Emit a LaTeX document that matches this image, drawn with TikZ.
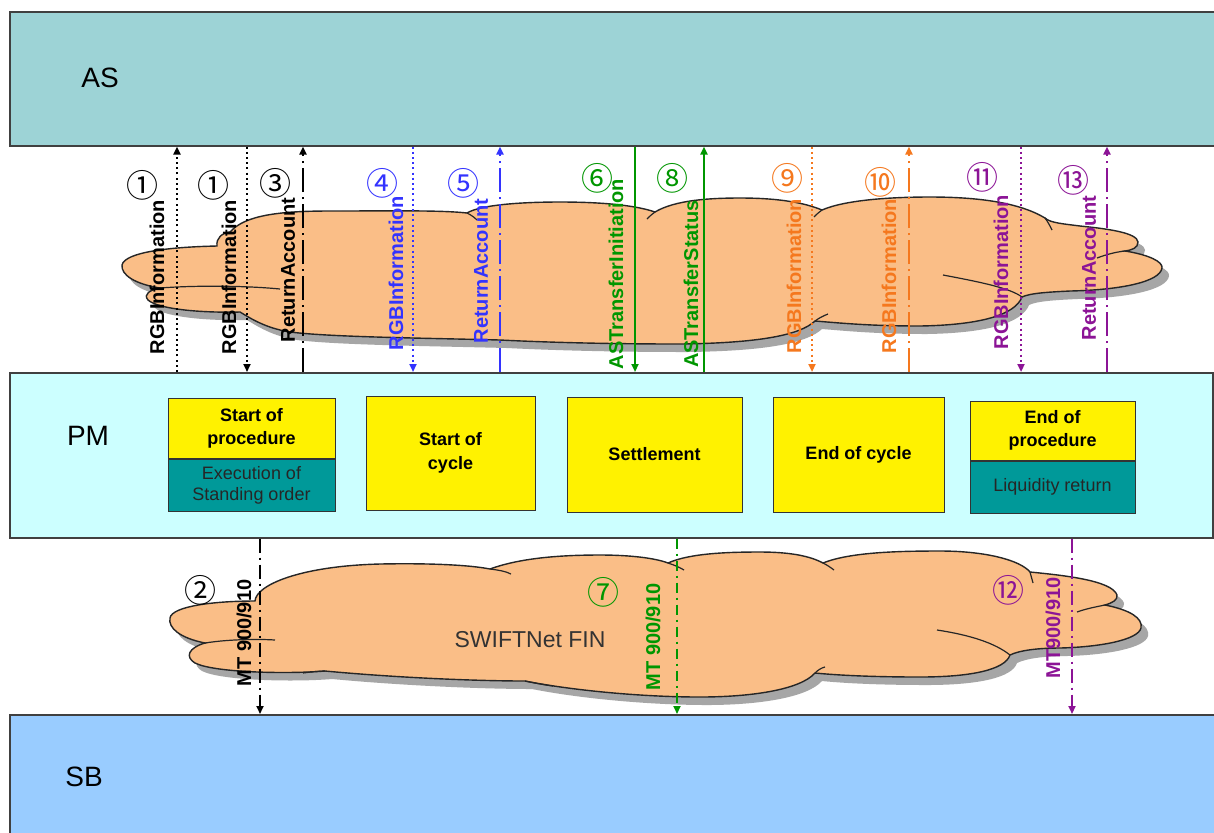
\documentclass[tikz,border=0pt]{standalone}
\usepackage{fontspec}
\setmainfont{Liberation Sans}
\newfontfamily\circfont{Noto Sans CJK SC}
\usetikzlibrary{arrows.meta,positioning,calc}
\definecolor{asband}{RGB}{157,211,214}
\definecolor{pmband}{RGB}{204,255,255}
\definecolor{sbband}{RGB}{153,204,255}
\definecolor{boxteal}{RGB}{0,153,153}
\definecolor{cloudfill}{RGB}{250,190,135}
\definecolor{msgblue}{RGB}{51,51,255}
\definecolor{msggreen}{RGB}{0,150,0}
\definecolor{msgorange}{RGB}{245,120,30}
\definecolor{msgpurple}{RGB}{140,20,150}
% outlines of the two clouds (px units)
\newcommand{\topcloud}[1]{%
  \path[#1] (122,265) .. controls (125,252) and (170,247) .. (217,246)
    .. controls (216,238) and (222,233) .. (230,232)
    .. controls (245,215) and (280,211) .. (330,211)
    .. controls (390,211) and (440,210) .. (467,213)
    .. controls (480,205) and (520,202) .. (560,202)
    .. controls (600,202) and (635,205) .. (655,212)
    .. controls (675,200) and (710,198) .. (740,198)
    .. controls (780,198) and (805,203) .. (822,210)
    .. controls (845,200) and (890,197) .. (930,197)
    .. controls (980,197) and (1020,203) .. (1045,218)
    .. controls (1050,223) and (1065,224) .. (1080,226)
    .. controls (1110,229) and (1137,233) .. (1138,242)
    .. controls (1138,248) and (1132,250) .. (1125,251)
    .. controls (1150,255) and (1163,262) .. (1162,268)
    .. controls (1160,282) and (1120,290) .. (1070,291)
    .. controls (1050,292) and (1030,293) .. (1022,297)
    .. controls (1015,315) and (980,325) .. (920,326)
    .. controls (870,326) and (840,323) .. (815,321)
    .. controls (800,335) and (760,343) .. (680,344)
    .. controls (600,344) and (540,342) .. (500,340)
    .. controls (420,338) and (330,337) .. (290,332)
    .. controls (265,328) and (250,318) .. (240,312)
    .. controls (200,313) and (158,309) .. (148,300)
    .. controls (143,294) and (150,290) .. (160,288)
    .. controls (135,284) and (121,275) .. (122,265) -- cycle;}
\newcommand{\botcloud}[1]{%
  \path[#1] (170,618) .. controls (172,606) and (215,601) .. (255,601)
    .. controls (256,585) and (300,566) .. (380,564)
    .. controls (430,563) and (470,565) .. (490,569)
    .. controls (520,558) and (560,555) .. (600,555)
    .. controls (630,555) and (655,558) .. (668,563)
    .. controls (690,553) and (730,552) .. (760,552)
    .. controls (790,552) and (810,556) .. (823,563)
    .. controls (850,552) and (900,551) .. (940,551)
    .. controls (985,551) and (1020,560) .. (1030,572)
    .. controls (1060,575) and (1112,580) .. (1117,595)
    .. controls (1118,600) and (1112,603) .. (1105,605)
    .. controls (1130,610) and (1143,618) .. (1141,628)
    .. controls (1138,640) and (1100,647) .. (1060,648)
    .. controls (1040,648) and (1020,650) .. (1010,655)
    .. controls (1005,670) and (970,677) .. (920,677)
    .. controls (870,677) and (835,675) .. (815,673)
    .. controls (800,690) and (750,697) .. (700,697)
    .. controls (640,697) and (570,690) .. (525,681)
    .. controls (480,681) and (400,678) .. (325,671)
    .. controls (290,674) and (215,673) .. (195,663)
    .. controls (185,657) and (188,648) .. (205,643)
    .. controls (180,638) and (168,628) .. (170,618) -- cycle;}

\begin{document}
\begin{tikzpicture}[
  x=0.5pt, y=-0.5pt,
  band/.style={draw=black!75, line width=0.8pt, anchor=north west, inner sep=0pt},
  bandlbl/.style={font=\fontsize{14}{16}\selectfont, inner sep=0pt},
  stagebox/.style={draw=black!80, line width=0.5pt, fill=yellow, align=center, inner sep=0pt,
    font=\bfseries\fontsize{9}{11.5}\selectfont},
  subbox/.style={draw=black!80, line width=0.5pt, fill=boxteal, align=center, inner sep=0pt,
    text=black!85, font=\fontsize{9}{10.5}\selectfont},
  msg/.style={rotate=90, inner sep=0pt, font=\bfseries\fontsize{10}{12}\selectfont},
  num/.style={inner sep=0pt, font=\circfont\fontsize{16}{16}\selectfont},
  shade/.style={fill=black!35, shift={(7,8)}},
  puff/.style={fill=cloudfill, draw=black!85, line width=0.7pt},
  seam/.style={draw=black!85, line width=0.6pt},
  tip/.style={-{Triangle[length=4pt,width=3.5pt]}},
  dotarr/.style={tip, line width=1pt, dash pattern=on 1pt off 1.6pt},
  dasharr/.style={tip, line width=1pt, dash pattern=on 12pt off 2.5pt on 1pt off 2.5pt},
  solidarr/.style={tip, line width=1pt},
  mtarr/.style={tip, line width=0.9pt, dash pattern=on 7pt off 2.5pt on 1pt off 2.5pt}
]
\useasboundingbox (0,0) rectangle (1214,832);
\fill[white] (0,0) rectangle (1214,832);

% bands
\node[band, fill=asband, minimum width=606pt, minimum height=67pt] (as) at (9,11) {};
\node[band, fill=pmband, minimum width=601.5pt, minimum height=82.5pt] (pm) at (9,372) {};
\node[band, fill=sbband, minimum width=606pt, minimum height=63pt] (sb) at (9,714) {};
\node[bandlbl] (aslbl) at (100,78) {AS};
\node[bandlbl] (pmlbl) at (88,436) {PM};
\node[bandlbl] (sblbl) at (84,777) {SB};

% clouds
\topcloud{shade}
\topcloud{puff}
\draw[seam] (160,288) .. controls (200,285) and (250,286) .. (280,289);
\draw[seam] (467,213) .. controls (471,215) and (474,217) .. (477,220);
\draw[seam] (655,212) .. controls (652,214) and (650,216) .. (647,219);
\draw[seam] (822,210) .. controls (819,212) and (817,214) .. (814,217);
\draw[seam] (1045,218) .. controls (1048,222) and (1050,226) .. (1052,230);
\draw[seam] (943,275) .. controls (980,282) and (1010,288) .. (1022,297);
\draw[seam] (1125,251) .. controls (1115,252) and (1105,255) .. (1097,258);
\draw[seam] (815,321) .. controls (819,318) and (823,316) .. (828,314);
\botcloud{shade}
\botcloud{puff}
\draw[seam] (205,643) .. controls (230,639) and (260,639) .. (275,640);
\draw[seam] (325,671) .. controls (318,671) and (310,672) .. (303,673);
\draw[seam] (490,569) .. controls (498,570) and (505,571) .. (511,574);
\draw[seam] (668,563) .. controls (674,565) and (679,567) .. (684,570);
\draw[seam] (823,563) .. controls (827,565) and (830,567) .. (834,570);
\draw[seam] (1030,572) .. controls (1031,576) and (1032,579) .. (1033,583);
\draw[seam] (937,630) .. controls (970,635) and (995,643) .. (1010,655);
\draw[seam] (1105,605) .. controls (1095,607) and (1085,609) .. (1077,612);
\draw[seam] (525,681) .. controls (535,683) and (545,685) .. (553,686);
\draw[seam] (815,673) .. controls (818,670) and (821,668) .. (825,667);
\node[text=black!80, font=\fontsize{11.5}{13}\selectfont, inner sep=0pt] (swift) at (530,640) {SWIFTNet FIN};

% stages in PM
\node[stagebox, minimum width=83.5pt, minimum height=30pt] (sop) at (251.5,428) {Start of\\procedure};
\node[subbox, minimum width=83.5pt, minimum height=26pt, below=0pt of sop] (exe) {Execution of\\Standing order};
\node[stagebox, minimum width=84.5pt, minimum height=57pt, font=\bfseries\fontsize{9}{12}\selectfont] (soc) at (450.5,453) {Start of\\cycle};
\node[stagebox, minimum width=87.5pt, minimum height=57.5pt] (set) at (654.5,454.5) {Settlement};
\node[stagebox, minimum width=85.5pt, minimum height=57.5pt] (eoc) at (858.5,454.5) {End of cycle};
\node[stagebox, minimum width=82.5pt, minimum height=29.5pt] (eop) at (1052.5,430.5) {End of\\procedure};
\node[subbox, minimum width=82.5pt, minimum height=26pt, below=0pt of eop] (liq) {Liquidity return};

% message lines
\coordinate (rgb1a) at (177,0);
\coordinate (rgb1b) at (247,0);
\coordinate (ret3) at (303,0);
\coordinate (rgb4) at (413,0);
\coordinate (ret5) at (500,0);
\coordinate (ast6) at (635,0);
\coordinate (ast8) at (704,0);
\coordinate (rgb9) at (812,0);
\coordinate (rgb10) at (909,0);
\coordinate (rgb11) at (1021,0);
\coordinate (ret13) at (1107,0);
\coordinate (mt2) at (260,0);
\coordinate (mt7) at (677,0);
\coordinate (mt12) at (1072,0);
\draw[dotarr] (pm.north -| rgb1a) -- (as.south -| rgb1a);
\draw[dotarr] (as.south -| rgb1b) -- (pm.north -| rgb1b);
\draw[dasharr] (pm.north -| ret3) -- (as.south -| ret3);
\draw[dotarr, msgblue] (as.south -| rgb4) -- (pm.north -| rgb4);
\draw[dasharr, msgblue] (pm.north -| ret5) -- (as.south -| ret5);
\draw[solidarr, msggreen] (as.south -| ast6) -- (pm.north -| ast6);
\draw[solidarr, msggreen] (pm.north -| ast8) -- (as.south -| ast8);
\draw[dotarr, msgorange] (as.south -| rgb9) -- (pm.north -| rgb9);
\draw[dasharr, msgorange] (pm.north -| rgb10) -- (as.south -| rgb10);
\draw[dotarr, msgpurple] (as.south -| rgb11) -- (pm.north -| rgb11);
\draw[dasharr, msgpurple] (pm.north -| ret13) -- (as.south -| ret13);
\draw[mtarr] (pm.south -| mt2) -- (sb.north -| mt2);
\draw[mtarr, msggreen, dash pattern=on 5pt off 2.5pt on 1pt off 2.5pt] (pm.south -| mt7) -- (sb.north -| mt7);
\draw[mtarr, msgpurple] (pm.south -| mt12) -- (sb.north -| mt12);

% message names
\node[msg] (n1a) at (157,277) {RGBInformation};
\node[msg] (n1b) at (229,277) {RGBInformation};
\node[msg] (n3) at (288,270) {ReturnAccount};
\node[msg, msgblue] (n4) at (396,273) {RGBInformation};
\node[msg, msgblue] (n5) at (481,271) {ReturnAccount};
\node[msg, msggreen] (n6) at (616,274) {ASTransferInitiation};
\node[msg, msggreen] (n8) at (691,284) {ASTransferStatus};
\node[msg, msgorange] (n9) at (794,276) {RGBInformation};
\node[msg, msgorange] (n10) at (889,276) {RGBInformation};
\node[msg, msgpurple] (n11) at (1001,272) {RGBInformation};
\node[msg, msgpurple] (n13) at (1089,268) {ReturnAccount};
\node[msg] (n2) at (244,633) {MT 900/910};
\node[msg, msggreen] (n7) at (653,637) {MT 900/910};
\node[msg, msgpurple] (n12) at (1053,628) {MT900/910};

% step numbers
\node[num] (s1a) at (142,185) {①};
\node[num] (s1b) at (213,185) {①};
\node[num] (s3) at (275,183) {③};
\node[num, msgblue] (s4) at (382,183) {④};
\node[num, msgblue] (s5) at (463,183) {⑤};
\node[num, msggreen] (s6) at (597,178) {⑥};
\node[num, msggreen] (s8) at (672,178) {⑧};
\node[num, msgorange] (s9) at (787,178) {⑨};
\node[num, msgorange] (s10) at (880,182) {⑩};
\node[num, msgpurple] (s11) at (982,177) {⑪};
\node[num, msgpurple] (s13) at (1073,180) {⑬};
\node[num] (s2) at (200,590) {②};
\node[num, msggreen] (s7) at (603,592) {⑦};
\node[num, msgpurple] (s12) at (1008,590) {⑫};
\end{tikzpicture}
\end{document}
